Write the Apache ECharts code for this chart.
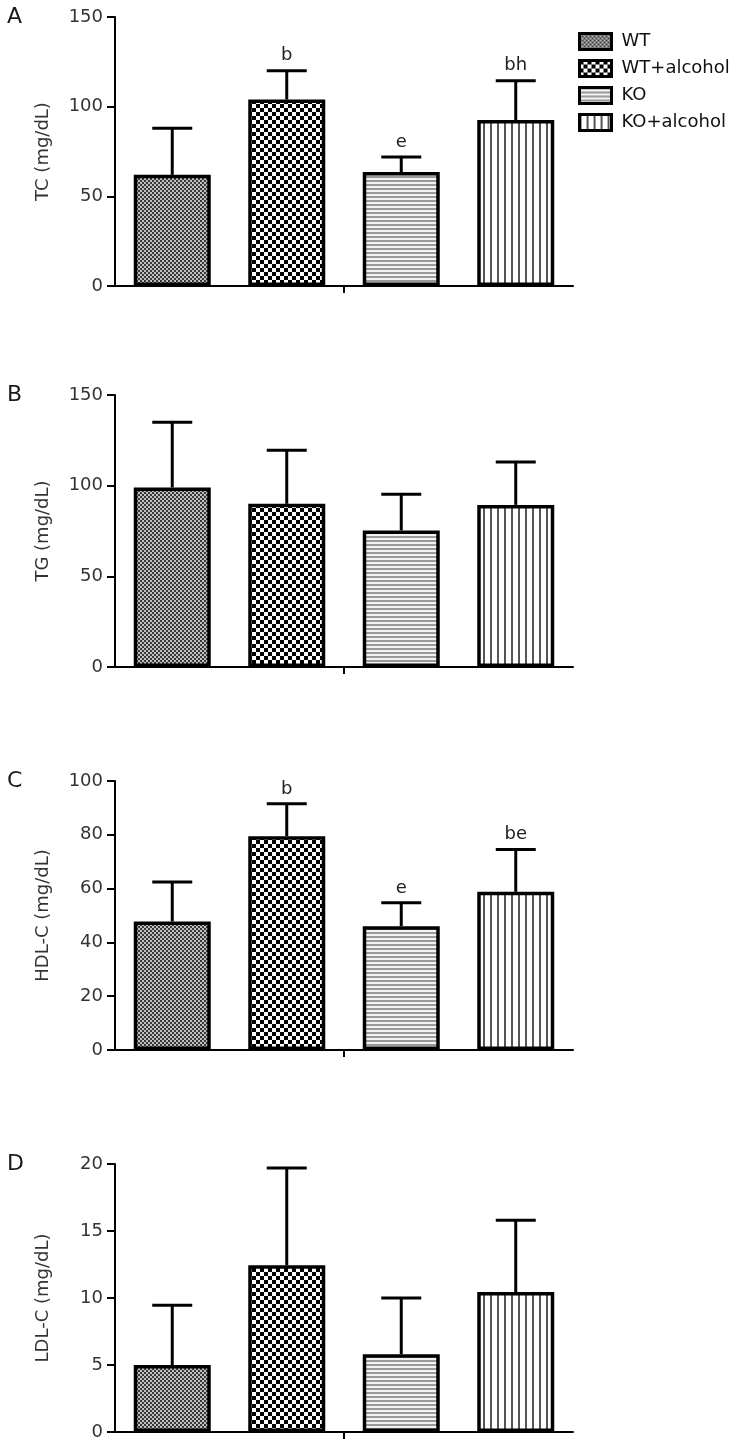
<!DOCTYPE html>
<html><head><meta charset="utf-8">
<script src="https://cdn.jsdelivr.net/npm/echarts@6/dist/echarts.min.js"></script>
<style>html,body{margin:0;padding:0;background:#fff}#c{width:740px;height:1447px}</style>
</head><body><div id="c"></div>
<script>
const categories = ['WT', 'WT+alcohol', 'KO', 'KO+alcohol'];
const panelLetters = ['A', 'B', 'C', 'D'];
const yNames = ['TC (mg/dL)', 'TG (mg/dL)', 'HDL-C (mg/dL)', 'LDL-C (mg/dL)'];
const yMax = [150, 150, 100, 20];
const yInterval = [50, 50, 20, 5];
const tcMean = [62, 104, 63.5, 92.5];
const tcSD = [26, 16, 8.5, 22];
const tgMean = [99, 90, 75.3, 89.4];
const tgSD = [36, 29.5, 20, 23.6];
const hdlMean = [47.8, 79.5, 46, 58.8];
const hdlSD = [14.7, 12, 8.7, 15.7];
const ldlMean = [5.0, 12.45, 5.8, 10.45];
const ldlSD = [4.45, 7.25, 4.2, 5.35];
const tcSig = ['', 'b', 'e', 'bh'];
const tgSig = ['', '', '', ''];
const hdlSig = ['', 'b', 'e', 'be'];
const ldlSig = ['', '', '', ''];

const means = [tcMean, tgMean, hdlMean, ldlMean];
const sds = [tcSD, tgSD, hdlSD, ldlSD];
const sigs = [tcSig, tgSig, hdlSig, ldlSig];

const gridTops = [17, 395, 781, 1164];
const gridHeights = [269, 272, 269, 268];
const FONT = 'DejaVu Sans';

function makePattern(w, h, draw) {
  const c = document.createElement('canvas');
  c.width = w; c.height = h;
  const g = c.getContext('2d');
  draw(g);
  return { image: c, repeat: 'repeat' };
}
const patterns = [
  makePattern(4, 4, g => { g.fillStyle = '#c0c0c0'; g.fillRect(0, 0, 4, 4); g.fillStyle = '#383838'; g.fillRect(0, 0, 2, 2); g.fillRect(2, 2, 2, 2); }),
  makePattern(8, 8, g => { g.fillStyle = '#fff'; g.fillRect(0, 0, 8, 8); g.fillStyle = '#000'; g.fillRect(0, 0, 4, 4); g.fillRect(4, 4, 4, 4); }),
  makePattern(4, 4, g => { g.fillStyle = '#f2f2f2'; g.fillRect(0, 0, 4, 4); g.fillStyle = '#9a9a9a'; g.fillRect(0, 0, 4, 2); }),
  makePattern(7, 4, g => { g.fillStyle = '#fff'; g.fillRect(0, 0, 7, 4); g.fillStyle = '#555'; g.fillRect(0, 0, 2, 4); })
];

const grids = [], xAxes = [], yAxes = [], series = [], titles = [];
for (let p = 0; p < 4; p++) {
  grids.push({ left: 115, width: 458, top: gridTops[p], height: gridHeights[p] });
  titles.push({ text: panelLetters[p], left: 7, top: gridTops[p] - 11, padding: 0,
    textStyle: { fontSize: 22, fontWeight: 'normal', fontFamily: FONT, color: '#1a1a1a' } });
  xAxes.push({ type: 'category', gridIndex: p, data: categories, boundaryGap: true,
    axisLine: { lineStyle: { color: '#000', width: 2 } }, axisTick: { show: false },
    axisLabel: { show: false }, splitLine: { show: false } });
  xAxes.push({ type: 'category', gridIndex: p, data: ['', '', ''], boundaryGap: false, position: 'bottom',
    axisLine: { show: false }, axisLabel: { show: false }, splitLine: { show: false },
    axisTick: { show: true, interval: (i) => i === 1, length: 7, lineStyle: { color: '#000', width: 2 } } });
  yAxes.push({ type: 'value', gridIndex: p, min: 0, max: yMax[p], interval: yInterval[p],
    name: yNames[p], nameLocation: 'middle', nameGap: 63, nameRotate: 90,
    nameTextStyle: { fontSize: 18, fontFamily: FONT, color: '#333' },
    axisLine: { show: true, lineStyle: { color: '#000', width: 2 } },
    axisTick: { show: true, length: 8, lineStyle: { color: '#000', width: 2 } },
    axisLabel: { margin: 12, fontSize: 18, fontFamily: FONT, color: '#333' },
    splitLine: { show: false } });
  for (let g = 0; g < 4; g++) {
    const data = categories.map((c, i) => (i === g ? means[p][i] : '-'));
    series.push({ type: 'bar', name: categories[g], xAxisIndex: p * 2, yAxisIndex: p,
      data: data, barWidth: 77, barGap: '-100%',
      itemStyle: { color: patterns[g], borderColor: '#000', borderWidth: 3.5 },
      emphasis: { disabled: true } });
  }
  const m = means[p], s = sds[p], sg = sigs[p];
  series.push({ type: 'custom', xAxisIndex: p * 2, yAxisIndex: p, z: 5, silent: true,
    data: m.map((v, i) => [i, v, s[i]]),
    encode: { x: 0, y: 1 },
    renderItem: (params, api) => {
      const i = api.value(0), v = api.value(1), e = api.value(2);
      const b = api.coord([i, v]);
      const t = api.coord([i, v + e]);
      const half = 20;
      const children = [
        { type: 'line', shape: { x1: b[0], y1: b[1], x2: t[0], y2: t[1] }, style: { stroke: '#000', lineWidth: 3 } },
        { type: 'line', shape: { x1: t[0] - half, y1: t[1], x2: t[0] + half, y2: t[1] }, style: { stroke: '#000', lineWidth: 3 } }
      ];
      const lab = sg[params.dataIndex];
      if (lab) {
        children.push({ type: 'text', style: { text: lab, x: t[0], y: t[1] - 6, align: 'center', verticalAlign: 'bottom',
          font: '18px "' + FONT + '"', fill: '#222' } });
      }
      return { type: 'group', children: children };
    } });
}

const chart = echarts.init(document.getElementById('c'), null, { renderer: 'canvas' });
chart.setOption({
  animation: false,
  backgroundColor: '#fff',
  title: titles,
  grid: grids,
  xAxis: xAxes,
  yAxis: yAxes,
  legend: { data: categories, orient: 'vertical', left: 578, top: 32, padding: 0, icon: 'rect',
    itemWidth: 32, itemHeight: 16, itemGap: 8, selectedMode: false,
    itemStyle: { borderColor: '#000', borderWidth: 3 },
    textStyle: { fontSize: 18, lineHeight: 18, fontFamily: FONT, color: '#111', padding: [0, 0, 0, 5] } },
  series: series
});
</script></body></html>
